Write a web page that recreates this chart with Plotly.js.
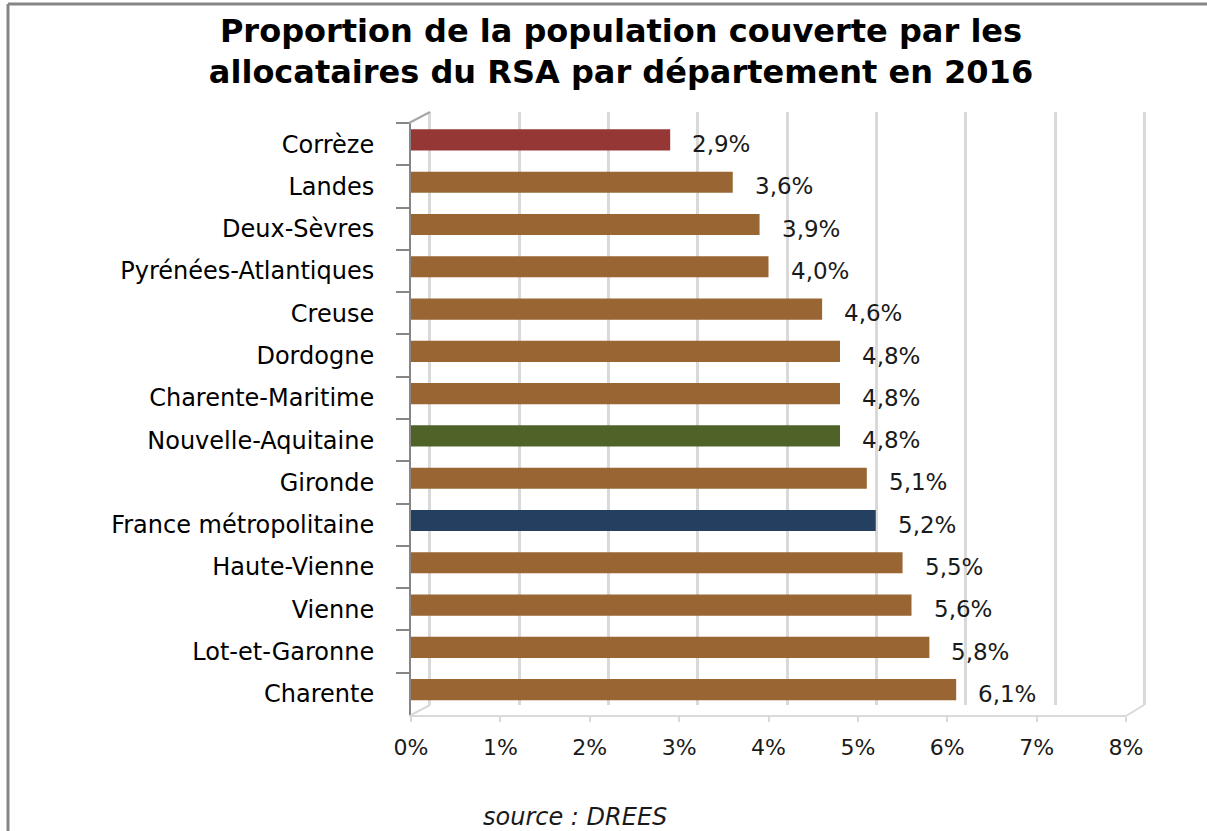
<!DOCTYPE html>
<html>
<head>
<meta charset="utf-8">
<script src="https://cdn.plot.ly/plotly-3.0.1.min.js"></script>
<style>
html,body{margin:0;padding:0;background:#fff;}
#chart{width:1207px;height:831px;}
</style>
</head>
<body>
<div id="chart"></div>
<script>
const categories = ["Corrèze","Landes","Deux-Sèvres","Pyrénées-Atlantiques","Creuse","Dordogne","Charente-Maritime","Nouvelle-Aquitaine","Gironde","France métropolitaine","Haute-Vienne","Vienne","Lot-et-Garonne","Charente"];
const values = [2.9,3.6,3.9,4.0,4.6,4.8,4.8,4.8,5.1,5.2,5.5,5.6,5.8,6.1];
const tickValues = [0,1,2,3,4,5,6,7,8];
const tickLabels = ["0%","1%","2%","3%","4%","5%","6%","7%","8%"];
const barColors = ["#953735","#996633","#996633","#996633","#996633","#996633","#996633","#4F6228","#996633","#243F60","#996633","#996633","#996633","#996633"];
const titleText = "Proportion de la population couverte par les<br>allocataires du RSA par département en 2016";
const sourceText = "<i>source : DREES</i>";

const fmt = v => v.toFixed(1).replace('.', ',') + '%';

// plot area geometry helpers (pixels)
const L = 411, R = 1147, T = 112, B = 717;
const W = R - L, H = B - T;
const px = x => (x - L) / W;
const py = y => (B - y) / H;

const traces = [
  { // invisible trace so the back-wall grid subplot exists
    type: 'scatter', x: [0], y: [0], xaxis: 'x', yaxis: 'y',
    mode: 'markers', marker: {opacity: 0}, hoverinfo: 'skip', showlegend: false
  },
  {
    type: 'bar', orientation: 'h',
    x: values, y: categories, xaxis: 'x2', yaxis: 'y2',
    width: 0.5, offset: -0.35,
    marker: {color: barColors, line: {width: 0}},
    hoverinfo: 'skip', showlegend: false
  }
];

const annotations = values.map((v, i) => ({
  x: v, y: categories[i], xref: 'x2', yref: 'y2',
  text: fmt(v), showarrow: false, xanchor: 'left', yanchor: 'middle',
  xshift: 20, yshift: 0,
  font: {family: 'DejaVu Sans', size: 23, color: '#1a1a1a'}
}));
annotations.push({
  x: px(575), y: py(817), xref: 'paper', yref: 'paper',
  text: sourceText, showarrow: false, xanchor: 'center', yanchor: 'middle',
  font: {family: 'DejaVu Sans', size: 24, color: '#1a1a1a'}
});

const frame = {color: '#868686', width: 3};
const wall = {color: '#D9D9D9', width: 2};
const shapes = [
  {type: 'line', xref: 'paper', yref: 'paper', x0: px(8), x1: px(8), y0: py(4), y1: py(840), line: frame},
  {type: 'line', xref: 'paper', yref: 'paper', x0: px(8), x1: px(1215), y0: py(4), y1: py(4), line: frame},
  {type: 'line', xref: 'paper', yref: 'paper', x0: px(409), x1: px(430), y0: py(123), y1: py(112), line: {color: '#A6A6A6', width: 2}},
  {type: 'line', xref: 'paper', yref: 'paper', x0: px(411), x1: px(430), y0: py(715), y1: py(705), line: wall},
  {type: 'line', xref: 'paper', yref: 'paper', x0: px(1126), x1: px(1144), y0: py(716), y1: py(705), line: wall}
];

const layout = {
  width: 1207, height: 831,
  margin: {l: L, r: 1207 - R, t: T, b: 831 - B, pad: 0},
  paper_bgcolor: '#ffffff',
  plot_bgcolor: 'rgba(0,0,0,0)',
  separators: ', ',
  title: {
    text: titleText, x: 0.5145, xanchor: 'center', xref: 'container',
    y: 0.95, yanchor: 'top', yref: 'container',
    font: {family: 'DejaVu Sans', size: 32, color: '#000', weight: 'bold'}
  },
  xaxis: {
    domain: [px(427.3), 1], range: [-0.03, 8.03], anchor: 'y',
    showgrid: true, gridcolor: '#D9D9D9', gridwidth: 3, dtick: 1, tick0: 0,
    showticklabels: false, zeroline: false, showline: false, ticks: '', fixedrange: true
  },
  yaxis: {
    domain: [py(705), 1], range: [0, 1], anchor: 'x',
    visible: false, showgrid: false, zeroline: false, fixedrange: true
  },
  xaxis2: {
    domain: [0, px(1126)], range: [0, 8], anchor: 'y2',
    showgrid: false, zeroline: false,
    showline: true, linecolor: '#D9D9D9', linewidth: 2,
    ticks: 'outside', ticklen: 5, tickwidth: 2, tickcolor: '#D9D9D9',
    tickmode: 'array', tickvals: tickValues, ticktext: tickLabels,
    ticklabelstandoff: 7,
    tickfont: {family: 'DejaVu Sans', size: 22, color: '#1a1a1a'}, fixedrange: true
  },
  yaxis2: {
    domain: [py(715), py(123)], anchor: 'x2', type: 'category',
    autorange: 'reversed', showgrid: false, zeroline: false,
    showline: true, linecolor: '#868686', linewidth: 2,
    ticks: 'outside', ticklen: 13, tickwidth: 2, tickcolor: '#868686',
    tickson: 'boundaries', ticklabelstandoff: 30,
    tickfont: {family: 'DejaVu Sans', size: 24, color: '#000'}, fixedrange: true
  },
  annotations: annotations,
  shapes: shapes,
  showlegend: false
};

Plotly.newPlot('chart', traces, layout, {displayModeBar: false, staticPlot: true});
</script>
</body>
</html>
